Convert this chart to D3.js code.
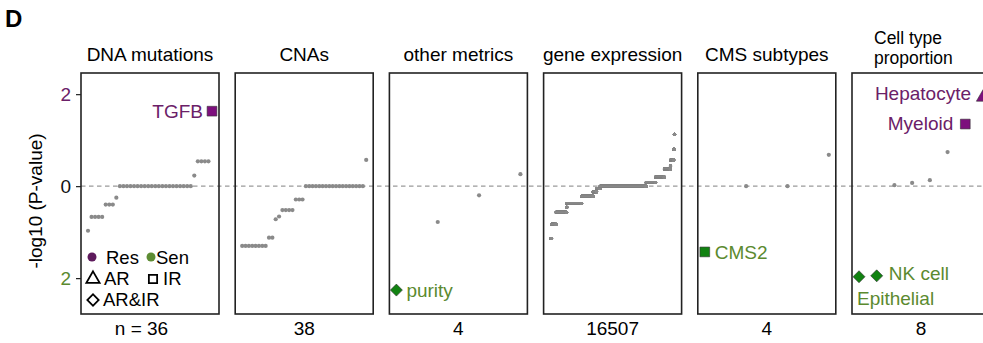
<!DOCTYPE html>
<html><head><meta charset="utf-8">
<script src="https://cdn.jsdelivr.net/npm/d3@7"></script>
<style>
body{margin:0;background:#fff}
svg{display:block}
text{font-family:"Liberation Sans",Arial,Helvetica,sans-serif}
</style>
</head><body>
<svg id="chart" width="983" height="343"></svg>
<script>
// ---------------- data ----------------
const panelTitles = [["DNA mutations"], ["CNAs"], ["other metrics"], ["gene expression"], ["CMS subtypes"], ["Cell type", "proportion"]];
const countLabels = ["n = 36", "38", "4", "16507", "4", "8"];
const yTickValues = [-2, 0, 2];

// signed -log10(P): positive = Res, negative = Sen ; sorted by rank
const dnaValues = [-0.97, -0.67, -0.67, -0.67, -0.67, -0.40, -0.40, -0.40, -0.25,
  0, 0, 0, 0, 0, 0, 0, 0, 0, 0, 0, 0, 0, 0, 0, 0, 0, 0, 0, 0, 0,
  0.23, 0.54, 0.54, 0.54, 0.54, 1.63];
const cnaValues = [-1.30, -1.30, -1.30, -1.30, -1.30, -1.30, -1.30, -1.30, -1.12, -1.12,
  -0.72, -0.66, -0.52, -0.52, -0.52, -0.52, -0.29, -0.29, -0.29,
  0, 0, 0, 0, 0, 0, 0, 0, 0, 0, 0, 0, 0, 0, 0, 0, 0, 0, 0.57];
const otherValues = [-2.26, -0.78, -0.20, 0.26];
// gene expression: sorted values stored as levels with the number of genes at each level
const geneLevels = [-1.14, -0.83, -0.57, -0.46, -0.38, -0.22, -0.12, -0.05, 0, 0.08, 0.20, 0.37, 0.44, 0.57, 0.80, 1.13];
const geneCounts = [130, 600, 1400, 40, 1960, 1530, 470, 460, 6126, 1265, 1160, 800, 40, 420, 80, 26];
const cmsValues = [-1.43, 0, 0, 0.68];
const cellValues = [-1.97, -1.95, 0.02, 0.07, 0.13, 0.74, 1.35, 1.93];

// highlighted features: panel index, rank (1-based), label, shape
const highlightPanel = [0, 2, 4, 5, 5, 5, 5];
const highlightRank = [36, 1, 1, 1, 2, 7, 8];
const highlightLabel = ["TGFB", "purity", "CMS2", "Epithelial", "NK cell", "Myeloid", "Hepatocyte"];
const highlightShape = ["IR", "AR&IR", "IR", "AR&IR", "AR&IR", "IR", "AR"];

const legendGroups = ["Res", "Sen"];
const legendShapes = ["AR", "IR", "AR&IR"];

// ---------------- build ----------------
const geneValues = [];
geneLevels.forEach((v, i) => { for (let k = 0; k < geneCounts[i]; k++) geneValues.push(v); });
const panelValues = [dnaValues, cnaValues, otherValues, geneValues, cmsValues, cellValues];

const COL = {
  resText: "#6b2068", senText: "#5b8a2f",
  resFill: "#7d0f7d", senFill: "#118211",
  resDot: "#5e1a5c", senDot: "#5d8c33",
  grey: "#8a8a8a", frame: "#222"
};
const FS = 19;

const svg = d3.select("#chart");
const yTop = 73, yBottom = 314, pw = 138, step = 154.2, left0 = 81;
const y = d3.scaleLinear().domain([-2.78, 2.46]).range([yBottom, yTop]);

// shapes: triangle, square, diamond (= square turned 45°)
function shapePath(s, size) {
  if (s === "AR") return d3.symbol().type(d3.symbolTriangle).size(size * 0.8)();
  return d3.symbol().type(d3.symbolSquare).size(size)();
}
const shapeRotate = s => s === "AR&IR" ? 45 : 0;

// panel label
svg.append("text").attr("x", 5).attr("y", 27).attr("font-size", 24).attr("font-weight", "bold").text("D");

// y label
svg.append("text")
  .attr("transform", `translate(42,201) rotate(-90)`)
  .attr("text-anchor", "middle").attr("font-size", FS).text("-log10 (P-value)");

// y axis
const axis = svg.append("g").attr("transform", `translate(${left0},0)`)
  .call(d3.axisLeft(y).tickValues(yTickValues).tickSize(5).tickPadding(5).tickFormat(d => Math.abs(d)));
axis.select(".domain").remove();
axis.selectAll(".tick line").attr("stroke", "#222").attr("stroke-width", 1.2);
axis.selectAll(".tick text").attr("font-size", FS).attr("font-family", "Liberation Sans, Arial, sans-serif")
  .attr("fill", d => d > 0 ? COL.resText : d < 0 ? COL.senText : "#111");

// zero dashed line
svg.append("line").attr("x1", left0).attr("x2", 983).attr("y1", y(0)).attr("y2", y(0))
  .attr("stroke", "#9a9a9a").attr("stroke-width", 1.2).attr("stroke-dasharray", "4.5,3.5");

const labelPlacement = {
  "TGFB": {dx: -9, dy: 7, anchor: "end"},
  "purity": {dx: 10, dy: 6.5, anchor: "start"},
  "CMS2": {dx: 10, dy: 7, anchor: "start"},
  "Epithelial": {dx: -2, dy: 28, anchor: "start"},
  "NK cell": {dx: 12, dy: 4, anchor: "start"},
  "Myeloid": {dx: -12, dy: 6, anchor: "end"},
  "Hepatocyte": {dx: -12, dy: 3, anchor: "end"}
};

panelValues.forEach((vals, p) => {
  const L = left0 + p * step;
  const x = d3.scaleLinear().domain([1, vals.length]).range([L + 7, L + pw - 7]);
  const g = svg.append("g");

  // title
  const t = panelTitles[p];
  if (t.length === 1) {
    g.append("text").attr("x", L + pw / 2).attr("y", 61).attr("text-anchor", "middle")
      .attr("font-size", FS).text(t[0]);
  } else {
    t.forEach((line, i) => g.append("text").attr("x", L + 22).attr("y", 44 + i * 20)
      .attr("font-size", 17.5).text(line));
  }
  // count label
  g.append("text").attr("x", L + pw / 2 + (p === 0 ? -8.5 : 0)).attr("y", 335)
    .attr("text-anchor", "middle").attr("font-size", FS).text(countLabels[p]);

  // frame
  g.append("rect").attr("x", L).attr("y", yTop).attr("width", pw).attr("height", yBottom - yTop)
    .attr("fill", "none").attr("stroke", COL.frame).attr("stroke-width", 1.6);

  const hlRanks = new Set(highlightPanel.map((hp, i) => hp === p ? highlightRank[i] : null).filter(r => r !== null));
  const pts = vals.map((v, i) => ({rank: i + 1, v})).filter(d => !hlRanks.has(d.rank));
  g.append("g").selectAll("circle").data(pts).join("circle")
    .attr("cx", d => x(d.rank)).attr("cy", d => y(d.v))
    .attr("r", vals.length > 1000 ? 1.5 : 2.1).attr("fill", COL.grey);

  // highlighted
  highlightPanel.forEach((hp, i) => {
    if (hp !== p) return;
    const v = vals[highlightRank[i] - 1];
    const cx = x(highlightRank[i]), cy = y(v);
    const res = v > 0;
    const sh = highlightShape[i];
    g.append("path").attr("d", shapePath(sh, sh === "AR&IR" ? 72 : 95))
      .attr("transform", `translate(${cx},${cy}) rotate(${shapeRotate(sh)})`)
      .attr("fill", res ? COL.resFill : COL.senFill).attr("stroke", "#333").attr("stroke-width", 0.6);
    const pl = labelPlacement[highlightLabel[i]];
    g.append("text").attr("x", cx + pl.dx).attr("y", cy + pl.dy).attr("text-anchor", pl.anchor)
      .attr("font-size", FS).attr("fill", res ? COL.resText : COL.senText).text(highlightLabel[i]);
  });
});

// legend
const lg = svg.append("g");
legendGroups.forEach((name, i) => {
  const lx = [92, 151][i];
  lg.append("circle").attr("cx", lx).attr("cy", 257).attr("r", 4.5).attr("fill", i === 0 ? COL.resDot : COL.senDot);
  lg.append("text").attr("x", lx + [14, 5][i]).attr("y", 264).attr("font-size", 18.5).text(name);
});
legendShapes.forEach((name, i) => {
  const pos = [[93, 279, 104, 285], [153, 279, 163, 285], [93, 300, 103, 306]][i];
  lg.append("path").attr("d", shapePath(name, name === "AR&IR" ? 64 : name === "AR" ? 95 : 68))
    .attr("transform", `translate(${pos[0]},${pos[1]}) rotate(${shapeRotate(name)})`)
    .attr("fill", "none").attr("stroke", "#000").attr("stroke-width", 1.8);
  lg.append("text").attr("x", pos[2]).attr("y", pos[3]).attr("font-size", 18.5).text(name);
});
</script>
</body></html>
